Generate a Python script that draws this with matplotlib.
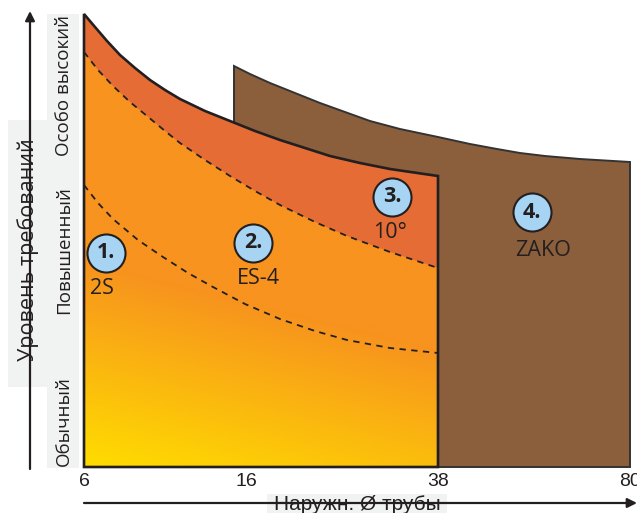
import matplotlib.pyplot as plt
import numpy as np
from matplotlib.patches import Polygon, Rectangle

# schematic units: x 0..546 (6 mm .. 80 mm), y 0..452 (requirement level)
diam_labels = ['6', '16', '38', '80']
diam_pos = [0, 162, 354, 546]
level_labels = ['Обычный', 'Повышенный', 'Особо высокий']
level_pos = [46, 217, 381]

# upper border of the 2S / ES-4 / 10° area
top_x = [0, 11, 23, 36, 51, 66, 81, 96, 121, 146, 171, 196, 221, 246, 276, 306, 354]
top_y = [453, 440, 426, 412, 399, 387, 377, 368, 356, 346, 336, 327, 319, 311, 304, 298, 291]

# upper border of the ZAKO area
zako_x = [150, 166, 186, 211, 236, 261, 286, 316, 354, 386, 413, 436, 461, 496, 546]
zako_y = [401, 393, 384, 374, 364, 355, 346, 338, 330, 323, 318, 314, 311, 308, 305]

# dashed limits: 10° above the upper one, ES-4 above the lower one
upper_x = [0, 14, 29, 46, 63, 81, 96, 121, 146, 171, 196, 231, 263, 306, 354]
upper_y = [415, 397, 381, 365, 351, 336, 324, 307, 291, 276, 262, 245, 231, 215, 199]
lower_x = [0, 14, 29, 54, 79, 104, 129, 161, 196, 231, 263, 306, 354]
lower_y = [282, 264, 248, 227, 210, 194, 180, 163, 148, 136, 127, 119, 114]

mark_nums = ['1.', '2.', '3.', '4.']
mark_names = ['2S', 'ES-4', '10°', 'ZAKO']
mark_x = [22, 169, 308, 448]
mark_y = [214, 224, 270, 255]
name_x = [18, 174, 306, 459]
name_y = [179, 189, 234, 217]

DARK = '#231F20'
GREY = '#F1F2F2'

fig = plt.figure(figsize=(6.37, 5.13), dpi=100)

# background layer in pixel coordinates for the axis decorations
bg = fig.add_axes([0, 0, 1, 1], zorder=0)
bg.set_xlim(0, 637)
bg.set_ylim(513, 0)
bg.axis('off')
bg.annotate('', xy=(30, 11), xytext=(30, 469),
            arrowprops=dict(arrowstyle='-|>', lw=1.6, color=DARK, mutation_scale=14,
                            shrinkA=0, shrinkB=0))
bg.add_patch(Rectangle((47, 14), 32, 454, color=GREY, lw=0))
bg.add_patch(Rectangle((8, 120), 39, 267, color=GREY, lw=0))
bg.text(28, 250, 'Уровень требований', rotation=90, ha='center', va='center',
        fontsize=15.5, family='Open Sans', color=DARK)
bg.annotate('', xy=(637, 503), xytext=(84, 503),
            arrowprops=dict(arrowstyle='-|>', lw=1.6, color=DARK, mutation_scale=14,
                            shrinkA=0, shrinkB=0))
bg.add_patch(Rectangle((267, 494), 180, 19, color=GREY, lw=0))
bg.text(357, 505, 'Наружн. Ø трубы', ha='center', va='center',
        fontsize=15, family='Liberation Sans', color=DARK)

ax = fig.add_axes([84 / 637, 46 / 513, 546 / 637, 452 / 513], zorder=1)
ax.patch.set_visible(False)

# ZAKO block
zako_pts = [(zako_x[0], 0)] + list(zip(zako_x, zako_y)) + [(zako_x[-1], 0)]
ax.add_patch(Polygon(zako_pts, closed=True, facecolor='#8B5E3C', edgecolor='#333333',
                     lw=1.4, zorder=1, clip_on=False))

# gradient area of 2S / ES-4
main_pts = [(0, 0)] + list(zip(top_x, top_y)) + [(top_x[-1], 0)]
clip_poly = Polygon(main_pts, closed=True, facecolor='none', edgecolor='none')
ax.add_patch(clip_poly)
gx = np.linspace(0, top_x[-1], 200)
gy = np.linspace(0, 452, 300)
GX, GY = np.meshgrid(gx, gy)
t = np.clip(GY / 205 + GX / 820, 0, 1)
c0 = np.array([255, 221, 0]) / 255
c1 = np.array([247, 147, 30]) / 255
img = c0 + (c1 - c0) * t[..., None]
im = ax.imshow(img, extent=(0, top_x[-1], 0, 452), origin='lower', aspect='auto', zorder=2)
im.set_clip_path(clip_poly)

# 10° band
band_pts = list(zip(top_x, top_y)) + list(zip(upper_x, upper_y))[::-1]
ax.add_patch(Polygon(band_pts, closed=True, facecolor='#E56D35', edgecolor='none', zorder=3))

ax.plot(upper_x, upper_y, color=DARK, lw=1.3, ls=(0, (3.5, 3)), zorder=4)
ax.plot(lower_x, lower_y, color=DARK, lw=1.3, ls=(0, (3.5, 3)), zorder=4)

ax.add_patch(Polygon(main_pts, closed=True, facecolor='none', edgecolor=DARK,
                     lw=1.9, zorder=5, clip_on=False, joinstyle='miter'))

ax.scatter(mark_x, mark_y, s=750, c='#A6D4F2', edgecolors=DARK, linewidths=1.5, zorder=6)
for num, x, y in zip(mark_nums, mark_x, mark_y):
    ax.text(x, y, num, ha='center', va='center', fontsize=15.5, fontweight='bold',
            family='Open Sans', color=DARK, zorder=7)
for name, x, y in zip(mark_names, name_x, name_y):
    ax.text(x, y, name, ha='center', va='center', fontsize=15.5,
            family='Open Sans', color=DARK, zorder=7)

ax.set_xlim(0, 546)
ax.set_ylim(0, 452)
ax.set_xticks(diam_pos, diam_labels, fontsize=14, family='Liberation Sans', color=DARK)
ax.set_yticks(level_pos, level_labels, rotation=90, va='center', fontsize=13.5,
              family='Open Sans', color=DARK)
ax.tick_params(axis='x', length=0, pad=4)
ax.tick_params(axis='y', length=0, pad=8)
for s in ax.spines.values():
    s.set_visible(False)

fig.savefig('out.png', dpi=100)
